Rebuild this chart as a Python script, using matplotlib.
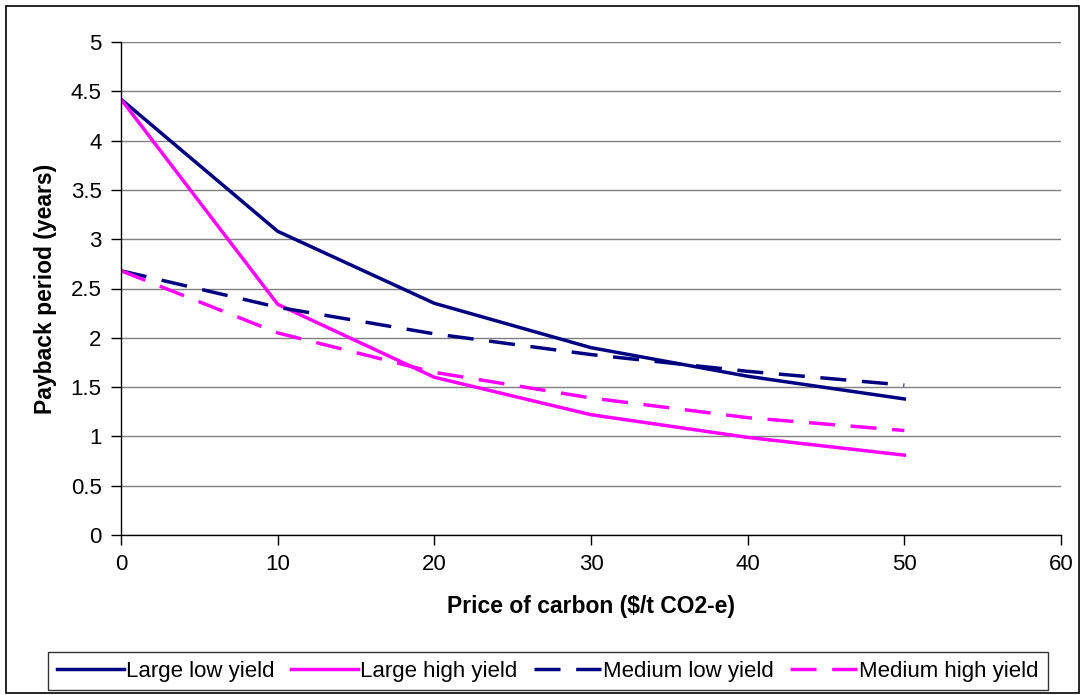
import matplotlib.pyplot as plt
from matplotlib.patches import Rectangle

plt.rcParams['font.family'] = ['Liberation Sans', 'DejaVu Sans']

# data
price = [0, 10, 20, 30, 40, 50]
large_low = [4.42, 3.08, 2.35, 1.90, 1.61, 1.38]
large_high = [4.42, 2.34, 1.60, 1.22, 0.99, 0.81]
medium_low = [2.68, 2.31, 2.04, 1.83, 1.66, 1.52]
medium_high = [2.68, 2.05, 1.65, 1.39, 1.19, 1.06]

navy = '#000080'
magenta = '#FF00FF'

fig = plt.figure(figsize=(10.85, 6.95), dpi=100)
ax = fig.add_axes([121 / 1085, 160 / 695, 940 / 1085, 493 / 695])

lw = 2.5
ax.plot(price, large_low, color=navy, lw=lw, label='Large low yield')
ax.plot(price, large_high, color=magenta, lw=lw, label='Large high yield')
l3, = ax.plot(price, medium_low, color=navy, lw=lw, label='Medium low yield')
l4, = ax.plot(price, medium_high, color=magenta, lw=lw, label='Medium high yield')
l3.set_dashes((7.5, 4.5))
l4.set_dashes((7.5, 4.5))

ax.set_xlim(0, 60)
ax.set_ylim(0, 5)
ax.set_xticks(range(0, 61, 10))
ax.set_yticks([0, 0.5, 1, 1.5, 2, 2.5, 3, 3.5, 4, 4.5, 5])
ax.set_yticklabels(['0', '0.5', '1', '1.5', '2', '2.5', '3', '3.5', '4', '4.5', '5'])
ax.grid(axis='y', color='#808080', lw=1.0)
ax.set_axisbelow(True)
for s in ['top', 'right']:
    ax.spines[s].set_visible(False)
for s in ['left', 'bottom']:
    ax.spines[s].set_color('black')
    ax.spines[s].set_linewidth(1.0)
ax.tick_params(axis='both', labelsize=16, direction='out', length=7, width=1, pad=7)

ax.set_xlabel('Price of carbon ($/t CO2-e)', fontsize=16.5, fontweight='bold', labelpad=14)
ax.set_ylabel('Payback period (years)', fontsize=16.5, fontweight='bold', labelpad=10)

leg = fig.legend(loc='center', ncol=4, bbox_to_anchor=(548 / 1085, 1 - 671 / 695),
                 fontsize=16, frameon=True, fancybox=False, handlelength=3.0,
                 handletextpad=0.1, columnspacing=0.75, borderpad=0.4,
                 borderaxespad=0)
leg.get_frame().set_edgecolor('black')
leg.get_frame().set_linewidth(1.0)

# outer chart border
fig.patches.append(Rectangle((6 / 1085, 0.003), 1 - 12 / 1085, 1 - 0.011,
                             transform=fig.transFigure, fill=False,
                             edgecolor='black', lw=1.2))

fig.savefig('out.png', dpi=100)
